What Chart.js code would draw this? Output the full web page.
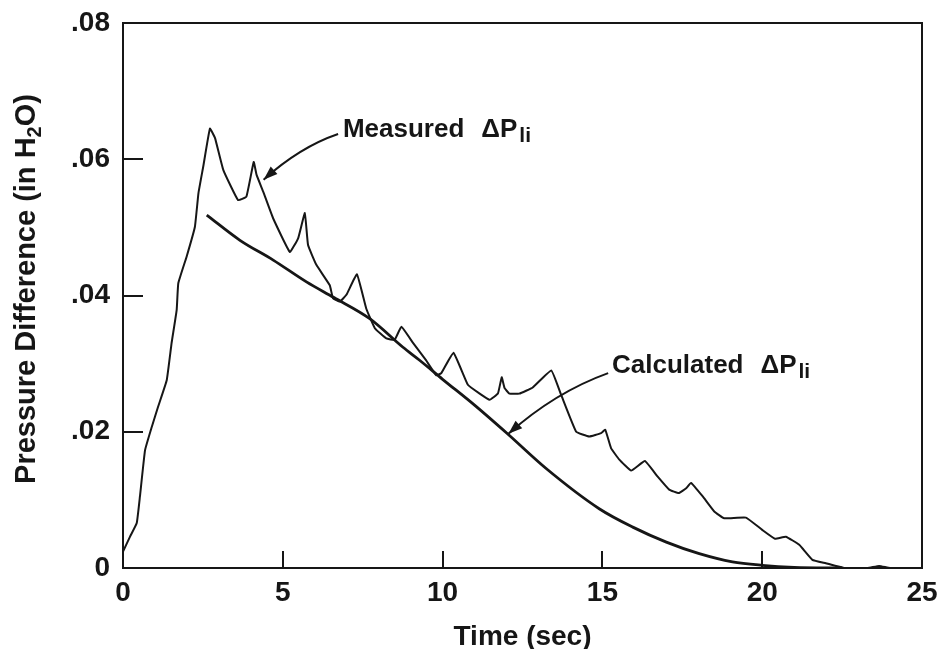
<!DOCTYPE html>
<html>
<head>
<meta charset="utf-8">
<title>Pressure Difference vs Time</title>
<script src="https://cdn.jsdelivr.net/npm/chart.js@4.4.1/dist/chart.umd.min.js"></script>
<style>
  html, body { margin: 0; padding: 0; background: #fff; }
  #wrap { width: 940px; height: 649px; position: relative; }
</style>
</head>
<body>
<div id="wrap"><canvas id="dpChart"></canvas></div>
<script>
// Measured pressure difference (in H2O) vs time (sec)
const measuredTime = [
  0, 0.22, 0.43, 0.53, 0.69, 0.9, 1.1, 1.37, 1.52, 1.68, 1.73, 1.99, 2.25, 2.36, 2.51, 2.72,
  2.88, 3.14, 3.6, 3.86, 4.09, 4.18, 4.39, 4.7, 5.22, 5.48, 5.69, 5.79, 6.05, 6.47, 6.57, 6.78,
  6.99, 7.32, 7.61, 7.88, 8.24, 8.5, 8.71, 9.08, 9.48, 9.8, 9.96, 10.34, 10.79, 11.16, 11.47,
  11.73, 11.85, 11.94, 12.09, 12.4, 12.82, 13.4, 13.71, 14.18, 14.59, 14.96, 15.09, 15.27,
  15.53, 15.9, 16.33, 16.73, 17.09, 17.39, 17.62, 17.77, 18.14, 18.5, 18.81, 19.49, 20.0,
  20.4, 20.74, 21.16, 21.57, 21.99, 22.56, 23.3, 23.66, 24.0, 24.9
];
const measuredDP = [
  0.0024, 0.0046, 0.0066, 0.0105, 0.0173, 0.0207, 0.0237, 0.0276, 0.033, 0.0379, 0.0418, 0.0457, 0.0501, 0.055, 0.0589, 0.0645,
  0.0631, 0.0584, 0.054, 0.0545, 0.0596, 0.0577, 0.0552, 0.0513, 0.0464, 0.0484, 0.0521, 0.0474, 0.0445, 0.0415, 0.0396, 0.0391,
  0.0401, 0.0431, 0.0381, 0.0352, 0.0337, 0.0335, 0.0354, 0.033, 0.0305, 0.0283, 0.0286, 0.0316, 0.0269, 0.0256, 0.0247,
  0.0256, 0.028, 0.0264, 0.0256, 0.0256, 0.0265, 0.029, 0.0254, 0.02, 0.0193, 0.0198, 0.0203, 0.0176,
  0.0159, 0.0143, 0.0157, 0.0134, 0.0115, 0.011, 0.0117, 0.0125, 0.0105, 0.0083, 0.0073, 0.0074, 0.0056,
  0.0043, 0.0046, 0.0034, 0.0012, 0.0007, 0, 0, 0.0003, 0, 0
];

// Calculated pressure difference
const calcTime = [2.62, 3.66, 4.7, 5.74, 6.6, 7.72, 8.76, 9.28, 10, 11, 12.03, 13.24, 14.9, 15.95, 17, 18.03, 19.07, 20, 21, 22.5];
const calcDP = [0.0518, 0.0481, 0.0452, 0.042, 0.0397, 0.0366, 0.0324, 0.0305, 0.0277, 0.0239, 0.0197, 0.0146, 0.0087, 0.006, 0.0038, 0.0021, 0.0009, 0.0004, 0.0001, 0];

// Axis ticks
const xTicks = [0, 5, 10, 15, 20, 25];
const yTicks = [0, 0.02, 0.04, 0.06, 0.08];

const INK = '#161616';
const FONT = '"Liberation Sans", Arial, Helvetica, sans-serif';

// Labels with arrows, anchored in data units: [text x, text y, arrow start, control, tip]
const annotations = [
  { text: 'Measured', tx: 6.88, ty: 0.0633, from: [6.73, 0.0637], ctrl: [5.54, 0.0618], to: [4.40, 0.0570] },
  { text: 'Calculated', tx: 15.3, ty: 0.0286, from: [15.18, 0.0286], ctrl: [13.52, 0.0258], to: [12.06, 0.0197] }
];

function toXY(xs, ys) {
  return xs.map((x, i) => ({ x: x, y: ys[i] }));
}

// Draws frame, inward ticks, axis titles and annotation labels
const decorPlugin = {
  id: 'decor',
  afterDraw(chart) {
    const ctx = chart.ctx;
    const area = chart.chartArea;
    const xs = chart.scales.x;
    const ys = chart.scales.y;
    ctx.save();
    ctx.strokeStyle = INK;
    ctx.fillStyle = INK;

    // frame
    ctx.lineWidth = 2;
    ctx.strokeRect(area.left, area.top, area.right - area.left, area.bottom - area.top);

    // inward tick marks
    ctx.lineWidth = 2;
    ctx.beginPath();
    yTicks.slice(1, -1).forEach(v => {
      const py = Math.round(ys.getPixelForValue(v));
      ctx.moveTo(area.left, py);
      ctx.lineTo(area.left + 20, py);
    });
    xTicks.slice(1, -1).forEach(v => {
      const px = Math.round(xs.getPixelForValue(v));
      ctx.moveTo(px, area.bottom);
      ctx.lineTo(px, area.bottom - 17);
    });
    ctx.stroke();

    // x title
    ctx.font = 'bold 28px ' + FONT;
    ctx.textAlign = 'center';
    ctx.textBaseline = 'alphabetic';
    ctx.fillText('Time (sec)', (area.left + area.right) / 2, 645);

    // y title with subscript
    ctx.save();
    ctx.translate(35, 289);
    ctx.rotate(-Math.PI / 2);
    ctx.textAlign = 'left';
    const main = 'Pressure Difference (in H';
    const tail = 'O)';
    ctx.font = 'bold 29px ' + FONT;
    const wMain = ctx.measureText(main).width;
    const wTail = ctx.measureText(tail).width;
    ctx.font = 'bold 20px ' + FONT;
    const wSub = ctx.measureText('2').width;
    let x0 = -(wMain + wSub + wTail) / 2;
    ctx.font = 'bold 29px ' + FONT;
    ctx.fillText(main, x0, 0);
    ctx.font = 'bold 20px ' + FONT;
    ctx.fillText('2', x0 + wMain, 6);
    ctx.font = 'bold 29px ' + FONT;
    ctx.fillText(tail, x0 + wMain + wSub, 0);
    ctx.restore();

    // annotations
    annotations.forEach(a => {
      const tx = xs.getPixelForValue(a.tx);
      const ty = ys.getPixelForValue(a.ty);
      ctx.textAlign = 'left';
      ctx.font = 'bold 26px ' + FONT;
      ctx.fillText(a.text, tx, ty);
      const w = ctx.measureText(a.text).width;
      ctx.fillText('\u0394P', tx + w + 17, ty);
      const wdp = ctx.measureText('\u0394P').width;
      ctx.font = 'bold 21px ' + FONT;
      ctx.fillText('li', tx + w + 17 + wdp + 2, ty + 5);

      const sx = xs.getPixelForValue(a.from[0]), sy = ys.getPixelForValue(a.from[1]);
      const cx = xs.getPixelForValue(a.ctrl[0]), cy = ys.getPixelForValue(a.ctrl[1]);
      const ex = xs.getPixelForValue(a.to[0]), ey = ys.getPixelForValue(a.to[1]);
      ctx.lineWidth = 2;
      ctx.beginPath();
      ctx.moveTo(sx, sy);
      ctx.quadraticCurveTo(cx, cy, ex, ey);
      ctx.stroke();
      // arrow head
      const ang = Math.atan2(ey - cy, ex - cx);
      const len = 14, half = 5;
      ctx.beginPath();
      ctx.moveTo(ex, ey);
      ctx.lineTo(ex - len * Math.cos(ang) + half * Math.sin(ang), ey - len * Math.sin(ang) - half * Math.cos(ang));
      ctx.lineTo(ex - len * Math.cos(ang) - half * Math.sin(ang), ey - len * Math.sin(ang) + half * Math.cos(ang));
      ctx.closePath();
      ctx.fill();
    });

    ctx.restore();
  }
};

const ctx = document.getElementById('dpChart');
new Chart(ctx, {
  type: 'line',
  data: {
    datasets: [
      {
        label: 'Measured \u0394P li',
        data: toXY(measuredTime, measuredDP),
        borderColor: INK,
        borderWidth: 2,
        pointRadius: 0,
        tension: 0.1,
        fill: false
      },
      {
        label: 'Calculated \u0394P li',
        data: toXY(calcTime, calcDP),
        borderColor: INK,
        borderWidth: 2.8,
        pointRadius: 0,
        cubicInterpolationMode: 'monotone',
        fill: false
      }
    ]
  },
  options: {
    responsive: true,
    maintainAspectRatio: false,
    animation: false,
    layout: { padding: { top: 23, right: 18, left: 0, bottom: 0 } },
    plugins: {
      legend: { display: false },
      tooltip: { enabled: false }
    },
    scales: {
      x: {
        type: 'linear',
        min: 0,
        max: 25,
        afterBuildTicks: scale => { scale.ticks = xTicks.map(v => ({ value: v })); },
        afterFit: scale => {
          scale.height = 81;
          scale.paddingLeft = 0;
          scale.paddingRight = 0;
        },
        grid: { display: false, drawTicks: false },
        border: { display: false },
        ticks: {
          color: INK,
          padding: 8,
          maxRotation: 0,
          font: { family: FONT, size: 28, weight: 'bold' }
        }
      },
      y: {
        type: 'linear',
        min: 0,
        max: 0.08,
        afterBuildTicks: scale => { scale.ticks = yTicks.map(v => ({ value: v })); },
        afterFit: scale => {
          scale.width = 123;
          scale.paddingTop = 0;
          scale.paddingBottom = 0;
        },
        grid: { display: false, drawTicks: false },
        border: { display: false },
        ticks: {
          color: INK,
          padding: 13,
          font: { family: FONT, size: 28, weight: 'bold' },
          callback: v => (v === 0 ? '0' : v.toFixed(2).replace(/^0/, ''))
        }
      }
    }
  },
  plugins: [decorPlugin]
});
</script>
</body>
</html>
